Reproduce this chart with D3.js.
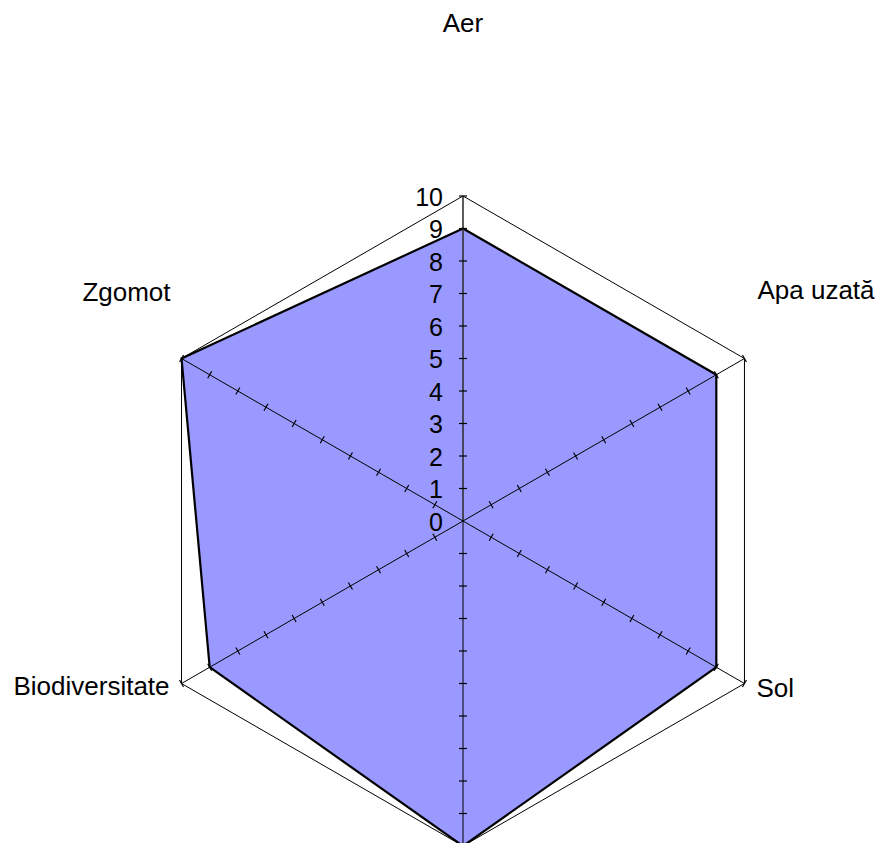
<!DOCTYPE html>
<html>
<head>
<meta charset="utf-8">
<script src="https://cdn.jsdelivr.net/npm/d3@7"></script>
<style>
  html, body { margin: 0; padding: 0; background: #fff; }
  svg { display: block; }
  text { font-family: "Liberation Sans", Arial, sans-serif; fill: #000; }
</style>
</head>
<body>
<svg id="chart" width="885" height="843"></svg>
<script>
// ---- data ----
const categories = ["Aer", "Apa uzată", "Sol", "Deșeuri", "Biodiversitate", "Zgomot"];
const values = [9, 9, 9, 10, 9, 10];
const tickValues = [0, 1, 2, 3, 4, 5, 6, 7, 8, 9, 10];
const axisMax = 10;

// ---- layout ----
const W = 885, H = 843;
const cx = 463, cy = 521;
const svg = d3.select("#chart");
const r = d3.scaleLinear().domain([0, axisMax]).range([0, 325]);
const angle = d3.scaleLinear().domain([0, categories.length]).range([0, 2 * Math.PI]);

function pt(i, v) {
  const a = angle(i);
  return [cx + r(v) * Math.sin(a), cy - r(v) * Math.cos(a)];
}

const g = svg.append("g");

// outer frame (max value hexagon)
const outer = categories.map((c, i) => pt(i, axisMax));
g.append("path")
  .attr("d", d3.line()(outer) + "Z")
  .attr("fill", "none")
  .attr("stroke", "#000")
  .attr("stroke-width", 1);

// data polygon
const dataPts = values.map((v, i) => pt(i, v));
g.append("path")
  .attr("d", d3.line()(dataPts) + "Z")
  .attr("fill", "#9999FF")
  .attr("stroke", "#000")
  .attr("stroke-width", 2.2)
  .attr("stroke-linejoin", "miter");

// spokes with tick marks
categories.forEach((c, i) => {
  const [x1, y1] = pt(i, axisMax);
  g.append("line")
    .attr("x1", cx).attr("y1", cy).attr("x2", x1).attr("y2", y1)
    .attr("stroke", i === 0 ? "#333" : "#000")
    .attr("stroke-width", i === 0 ? 1.6 : 1);
  const a = angle(i);
  const px = Math.cos(a), py = Math.sin(a); // perpendicular direction
  tickValues.slice(1).forEach(t => {
    const [tx, ty] = pt(i, t);
    g.append("line")
      .attr("x1", tx - 4 * px).attr("y1", ty - 4 * py)
      .attr("x2", tx + 4 * px).attr("y2", ty + 4 * py)
      .attr("stroke", "#000").attr("stroke-width", 1.2);
  });
});

// tick labels on the vertical axis
g.selectAll("text.tick")
  .data(tickValues)
  .enter().append("text")
  .attr("class", "tick")
  .attr("x", cx - 20)
  .attr("y", d => cy - r(d) + 9.5)
  .attr("text-anchor", "end")
  .attr("font-size", 25)
  .text(d => d);

// category labels (the bottom one falls outside the visible area, as in the reference)
const labelOffsets = [
  { dx: 0, dy: -164, anchor: "middle" },
  { dx: 13, dy: -60, anchor: "start" },
  { dx: 12, dy: 13.5, anchor: "start" },
  { dx: 0, dy: 45, anchor: "middle" },
  { dx: -12, dy: 11.5, anchor: "end" },
  { dx: -11, dy: -58, anchor: "end" }
];
categories.forEach((c, i) => {
  const [x, y] = pt(i, axisMax);
  const o = labelOffsets[i];
  if (y + o.dy > H) return; // not visible in the chart area
  g.append("text")
    .attr("x", x + o.dx)
    .attr("y", y + o.dy)
    .attr("text-anchor", o.anchor)
    .attr("font-size", 26)
    .text(c);
});
</script>
</body>
</html>
